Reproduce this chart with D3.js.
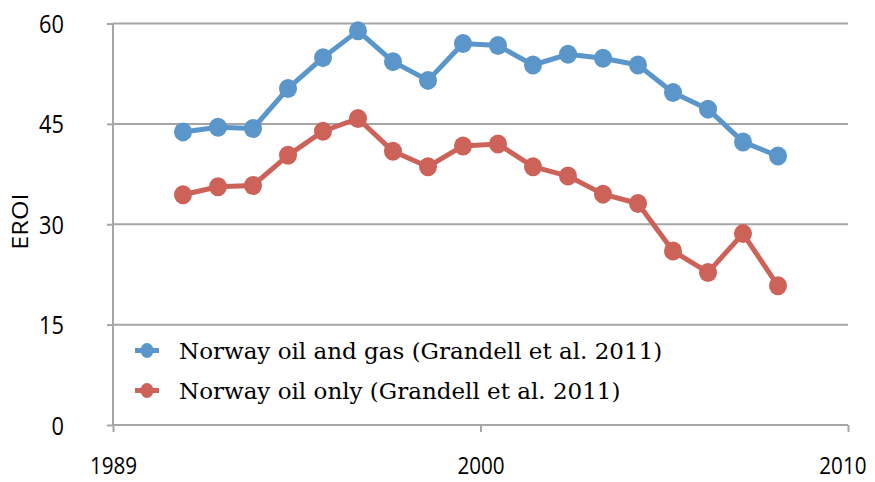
<!DOCTYPE html>
<html><head><meta charset="utf-8">
<script src="https://cdn.jsdelivr.net/npm/d3@7"></script>
<style>body{margin:0;background:#fff}</style>
</head><body>
<script>
const years = [1991,1992,1993,1994,1995,1996,1997,1998,1999,2000,2001,2002,2003,2004,2005,2006,2007,2008];
const oilGas = [43.8,44.5,44.3,50.3,54.9,58.9,54.3,51.5,57.0,56.7,53.8,55.4,54.8,53.8,49.7,47.2,42.3,40.2];
const oilOnly = [34.4,35.6,35.8,40.3,43.9,45.8,40.9,38.6,41.7,42.0,38.6,37.2,34.5,33.1,26.0,22.8,28.6,20.8];
const seriesNames = ["Norway oil and gas (Grandell et al. 2011)","Norway oil only (Grandell et al. 2011)"];
const xTickValues = [1989, 1999.5, 2010];
const xTickLabels = ["1989","2000","2010"];
const yTickValues = [0,15,30,45,60];
const yLabel = "EROI";

const W=875,H=482;
const colors=["#5b96ca","#cd6259"];
const svg=d3.select("body").append("svg").attr("width",W).attr("height",H);
const x=d3.scaleLinear().domain([1989,2010]).range([113,848]);
const y=d3.scaleLinear().domain([0,60]).range([425,23.5]);
const grey="#a6a6a6";
const sans="'Open Sans', sans-serif";

function squeeze(sel,k){
  sel.each(function(){
    const n=this.getComputedTextLength();
    d3.select(this).attr("textLength",n*k).attr("lengthAdjust","spacingAndGlyphs");
  });
}

// gridlines
svg.append("g").selectAll("line").data(yTickValues.filter(d=>d>0)).join("line")
 .attr("x1",x(1989)).attr("x2",x(2010)).attr("y1",d=>y(d)).attr("y2",d=>y(d))
 .attr("stroke",grey).attr("stroke-width",2);

// y axis
const ya=svg.append("g").attr("transform",`translate(${x(1989)},0)`)
 .call(d3.axisLeft(y).tickValues(yTickValues).tickSize(6).tickPadding(43));
ya.attr("font-family",sans).attr("font-size",25);
ya.select(".domain").attr("stroke",grey).attr("stroke-width",2).attr("d",`M0,${y(0)}V${y(60)}`);
ya.selectAll(".tick line").attr("stroke",grey).attr("stroke-width",2);
ya.selectAll(".tick text").attr("fill","#000").attr("dy","0.36em");
squeeze(ya.selectAll(".tick text"),0.87);

// x axis
const xa=svg.append("g").attr("transform",`translate(0,${y(0)})`)
 .call(d3.axisBottom(x).tickValues(xTickValues).tickFormat((d,i)=>xTickLabels[i]).tickSize(7).tickPadding(25));
xa.attr("font-family",sans).attr("font-size",24);
xa.select(".domain").attr("stroke",grey).attr("stroke-width",2).attr("d",`M${x(1989)},0H${x(2010)}`);
xa.selectAll(".tick line").attr("stroke",grey).attr("stroke-width",2);
xa.selectAll(".tick text").attr("fill","#000");
squeeze(xa.selectAll(".tick text"),0.86);
xa.selectAll(".tick text").filter((d,i,n)=>i===n.length-1).attr("text-anchor","end").attr("x",18);

// y label
const yl=svg.append("text").attr("transform",`translate(28,${y(30.4)}) rotate(-90)`)
 .attr("text-anchor","middle").attr("font-family",sans).attr("font-size",21).attr("fill","#000").text(yLabel);
squeeze(yl,1.2);

const line=d3.line().x((d,i)=>x(years[i])).y(d=>y(d));
[oilGas,oilOnly].forEach((s,k)=>{
  const g=svg.append("g");
  g.append("path").datum(s).attr("d",line).attr("fill","none").attr("stroke",colors[k]).attr("stroke-width",5).attr("stroke-linejoin","round");
  g.selectAll("ellipse").data(s).join("ellipse").attr("cx",(d,i)=>x(years[i])).attr("cy",d=>y(d)).attr("rx",9).attr("ry",9.5).attr("fill",colors[k]);
});

// legend
const leg=svg.append("g");
seriesNames.forEach((n,k)=>{
  const cy=350.5+k*40;
  leg.append("line").attr("x1",135).attr("x2",159).attr("y1",cy).attr("y2",cy).attr("stroke",colors[k]).attr("stroke-width",5);
  leg.append("ellipse").attr("cx",147).attr("cy",cy).attr("rx",6.5).attr("ry",7.5).attr("fill",colors[k]);
  leg.append("text").attr("x",179).attr("y",cy+8).attr("font-family","'DejaVu Serif',serif")
   .attr("font-size",23).attr("fill","#000").text(n);
});
</script>
</body></html>
